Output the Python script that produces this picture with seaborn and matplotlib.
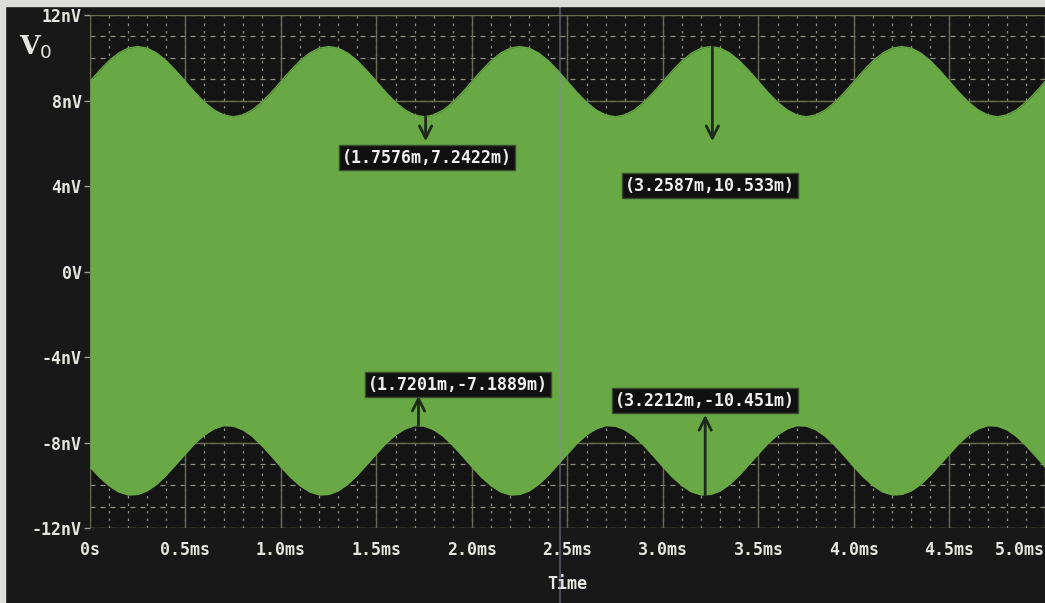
import matplotlib
matplotlib.use('Agg')
import matplotlib.pyplot as plt
from matplotlib.patches import Rectangle
from matplotlib.lines import Line2D
import seaborn as sns
import pandas as pd

# envelope of the AM signal, read every 0.05 ms (nV)
time_ms = [i * 0.05 for i in range(101)]
upper_nv = [
    8.89, 9.40, 9.86, 10.22, 10.45, 10.53, 10.45, 10.22, 9.86, 9.40,
    8.89, 8.38, 7.92, 7.56, 7.33, 7.24, 7.33, 7.56, 7.92, 8.38,
    8.89, 9.40, 9.86, 10.22, 10.45, 10.53, 10.45, 10.22, 9.86, 9.40,
    8.89, 8.38, 7.92, 7.56, 7.33, 7.24, 7.33, 7.56, 7.92, 8.38,
    8.89, 9.40, 9.86, 10.22, 10.45, 10.53, 10.45, 10.22, 9.86, 9.40,
    8.89, 8.38, 7.92, 7.56, 7.33, 7.24, 7.33, 7.56, 7.92, 8.38,
    8.89, 9.40, 9.86, 10.22, 10.45, 10.53, 10.45, 10.22, 9.86, 9.40,
    8.89, 8.38, 7.92, 7.56, 7.33, 7.24, 7.33, 7.56, 7.92, 8.38,
    8.89, 9.40, 9.86, 10.22, 10.45, 10.53, 10.45, 10.22, 9.86, 9.40,
    8.89, 8.38, 7.92, 7.56, 7.33, 7.24, 7.33, 7.56, 7.92, 8.38,
    8.89]
lower_nv = [
    -9.13, -9.61, -10.01, -10.30, -10.44, -10.42, -10.25, -9.94, -9.51, -9.02,
    -8.52, -8.03, -7.63, -7.35, -7.20, -7.22, -7.39, -7.70, -8.13, -8.62,
    -9.13, -9.61, -10.01, -10.30, -10.44, -10.42, -10.25, -9.94, -9.51, -9.02,
    -8.52, -8.03, -7.63, -7.35, -7.20, -7.22, -7.39, -7.70, -8.13, -8.62,
    -9.13, -9.61, -10.01, -10.30, -10.44, -10.42, -10.25, -9.94, -9.51, -9.02,
    -8.52, -8.03, -7.63, -7.35, -7.20, -7.22, -7.39, -7.70, -8.13, -8.62,
    -9.13, -9.61, -10.01, -10.30, -10.44, -10.42, -10.25, -9.94, -9.51, -9.02,
    -8.52, -8.03, -7.63, -7.35, -7.20, -7.22, -7.39, -7.70, -8.13, -8.62,
    -9.13, -9.61, -10.01, -10.30, -10.44, -10.42, -10.25, -9.94, -9.51, -9.02,
    -8.52, -8.03, -7.63, -7.35, -7.20, -7.22, -7.39, -7.70, -8.13, -8.62,
    -9.13]

x_ticks = [0, 0.5, 1.0, 1.5, 2.0, 2.5, 3.0, 3.5, 4.0, 4.5, 5.0]
x_labels = ['0s', '0.5ms', '1.0ms', '1.5ms', '2.0ms', '2.5ms', '3.0ms', '3.5ms', '4.0ms', '4.5ms', '5.0ms']
y_ticks = [-12, -8, -4, 0, 4, 8, 12]
y_labels = ['-12nV', '-8nV', '-4nV', '0V', '4nV', '8nV', '12nV']

# cursor readouts: (t ms, v nV, label, label t, label v, arrow head v)
cursor_t = [1.7576, 3.2587, 1.7201, 3.2212]
cursor_v = [7.2422, 10.533, -7.1889, -10.451]
cursor_text = ['(1.7576m,7.2422m)', '(3.2587m,10.533m)', '(1.7201m,-7.1889m)', '(3.2212m,-10.451m)']
label_t = [1.764, 3.246, 1.927, 3.22]
label_v = [5.33, 4.02, -5.28, -6.03]
head_v = [6.1, 6.1, -5.8, -6.7]

df = pd.DataFrame({'t': time_ms, 'upper': upper_nv, 'lower': lower_nv})

green = '#68a845'
bg = '#141414'
txt = '#e6e6e0'

sns.set_theme(style='dark', rc={'axes.facecolor': bg, 'figure.facecolor': '#181818'})
plt.rcParams['font.family'] = ['DejaVu Sans Mono', 'DejaVu Sans']

fig = plt.figure(figsize=(10.45, 6.03), dpi=100)
ax = fig.add_axes([0.086, 0.124, 0.914, 0.851])

# grid: dotted minor, faint solid major
for t in [i * 0.1 for i in range(51)]:
    ax.axvline(t, color='#b8b8a8', lw=0.9, ls=(0, (2, 4)), alpha=0.75, zorder=1)
for v in range(-12, 13):
    ax.axhline(v, color='#b8b8a8', lw=0.9, ls=(0, (4, 4)), alpha=0.75, zorder=1)
for t in x_ticks:
    ax.axvline(t, color='#6a6a50', lw=1.0, zorder=1)
for v in y_ticks:
    ax.axhline(v, color='#6a6a50', lw=1.0, zorder=1)

ax.fill_between(df['t'], df['lower'], df['upper'], color=green, lw=0, zorder=2)
sns.lineplot(data=df, x='t', y='upper', color=green, lw=1, ax=ax, zorder=2)
sns.lineplot(data=df, x='t', y='lower', color=green, lw=1, ax=ax, zorder=2)

ax.set_xlim(0, 5.0)
ax.set_ylim(-12, 12)
ax.set_xticks(x_ticks)
ax.set_xticklabels(x_labels)
ax.set_yticks(y_ticks)
ax.set_yticklabels(y_labels)
ax.get_xticklabels()[-1].set_horizontalalignment('right')
ax.tick_params(axis='both', colors=txt, labelsize=12, labelcolor=txt)
ax.tick_params(axis='y', length=4, width=1, color='#9a9a9a', left=True, pad=2)
ax.tick_params(axis='x', length=0, pad=9)
for lab in ax.get_xticklabels() + ax.get_yticklabels():
    lab.set_fontweight('bold')
ax.set_xlabel('Time', color=txt, fontsize=12, fontweight='bold', labelpad=12)
ax.set_ylabel('')
for s in ax.spines.values():
    s.set_visible(False)

for i in range(len(cursor_t)):
    ax.annotate('', xy=(cursor_t[i], head_v[i]), xytext=(cursor_t[i], cursor_v[i]),
                arrowprops=dict(arrowstyle='->', color='#1e2a1a', lw=2, mutation_scale=22,
                                shrinkA=0, shrinkB=0), zorder=4)
    ax.text(label_t[i], label_v[i], cursor_text[i], ha='center', va='center', color='#f0f0f0',
            fontsize=12, fontweight='bold', zorder=5,
            bbox=dict(boxstyle='square,pad=0.2', fc='#101010', ec='#3a4a30', lw=1))

fig.text(0.018, 0.91, r'V$_0$', color=txt, fontsize=19, family='DejaVu Serif', fontweight='bold')

# scan artefacts: light border and cursor line
fig.add_artist(Rectangle((0, 0.99), 1, 0.01, transform=fig.transFigure, color='#dcdcd8', zorder=10))
fig.add_artist(Rectangle((0, 0), 0.005, 1, transform=fig.transFigure, color='#dcdcd8', zorder=10))
fig.add_artist(Line2D([0.536, 0.536], [0, 0.99], transform=fig.transFigure, color='#8c8ca8', lw=1.5, alpha=0.45, zorder=6))

fig.savefig('out.png', dpi=100, facecolor=fig.get_facecolor())
